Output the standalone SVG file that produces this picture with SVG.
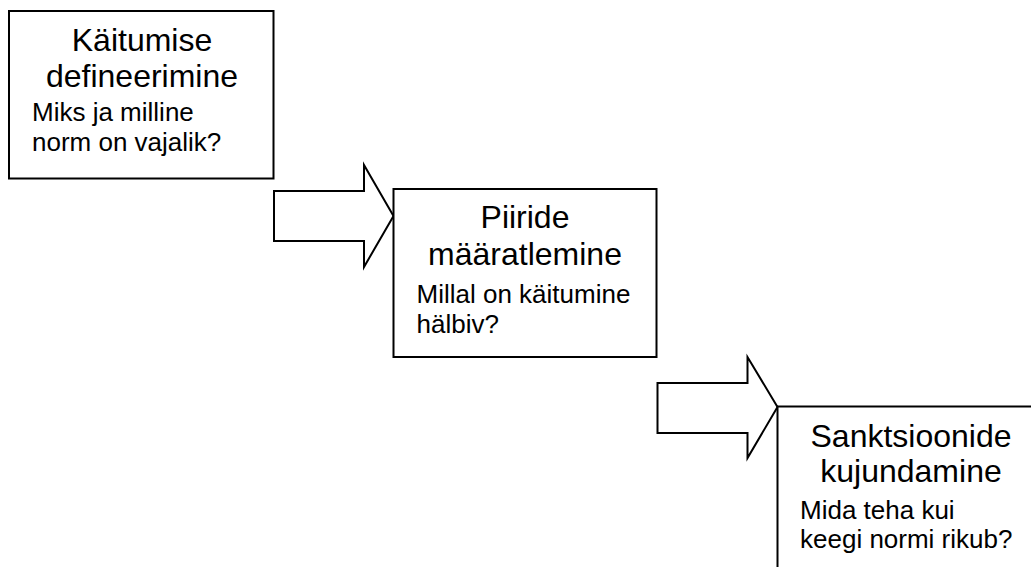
<svg xmlns="http://www.w3.org/2000/svg" width="1031" height="567" viewBox="0 0 1031 567">
  <style>
    .box { fill: #ffffff; stroke: #000000; stroke-width: 2; }
    .arrow { fill: #ffffff; stroke: #000000; stroke-width: 2; stroke-linejoin: miter; }
    .title { font-family: "Liberation Sans", Arial, sans-serif; font-size: 32px; fill: #000000; text-anchor: middle; }
    .sub { font-family: "Liberation Sans", Arial, sans-serif; font-size: 26px; fill: #000000; }
  </style>
  <rect width="1031" height="567" fill="#ffffff"/>

  <!-- block arrows between the steps -->
  <g id="connectors">
    <polygon class="arrow" points="274,191 364,191 364,165 393.5,216 364,267 364,241 274,241"/>
    <polygon class="arrow" points="657.5,383 747.5,383 747.5,357 777.5,407 747.5,458 747.5,433 657.5,433"/>
  </g>

  <g id="step-define">
    <rect class="box" x="9" y="11" width="264.5" height="167.5"/>
    <text class="title" x="142" y="51">Käitumise</text>
    <text class="title" x="142" y="87">defineerimine</text>
    <text class="sub" x="32" y="121">Miks ja milline</text>
    <text class="sub" x="32" y="151">norm on vajalik?</text>
  </g>

  <g id="step-limits">
    <rect class="box" x="393.5" y="189" width="263" height="168"/>
    <text class="title" x="525" y="228">Piiride</text>
    <text class="title" x="525" y="265">määratlemine</text>
    <text class="sub" x="416.5" y="303">Millal on käitumine</text>
    <text class="sub" x="416.5" y="333">hälbiv?</text>
  </g>

  <g id="step-sanctions">
    <rect class="box" x="777.5" y="406.5" width="265" height="168"/>
    <text class="title" x="911" y="447">Sanktsioonide</text>
    <text class="title" x="911" y="482">kujundamine</text>
    <text class="sub" x="800" y="519">Mida teha kui</text>
    <text class="sub" x="800" y="548">keegi normi rikub?</text>
  </g>
</svg>
